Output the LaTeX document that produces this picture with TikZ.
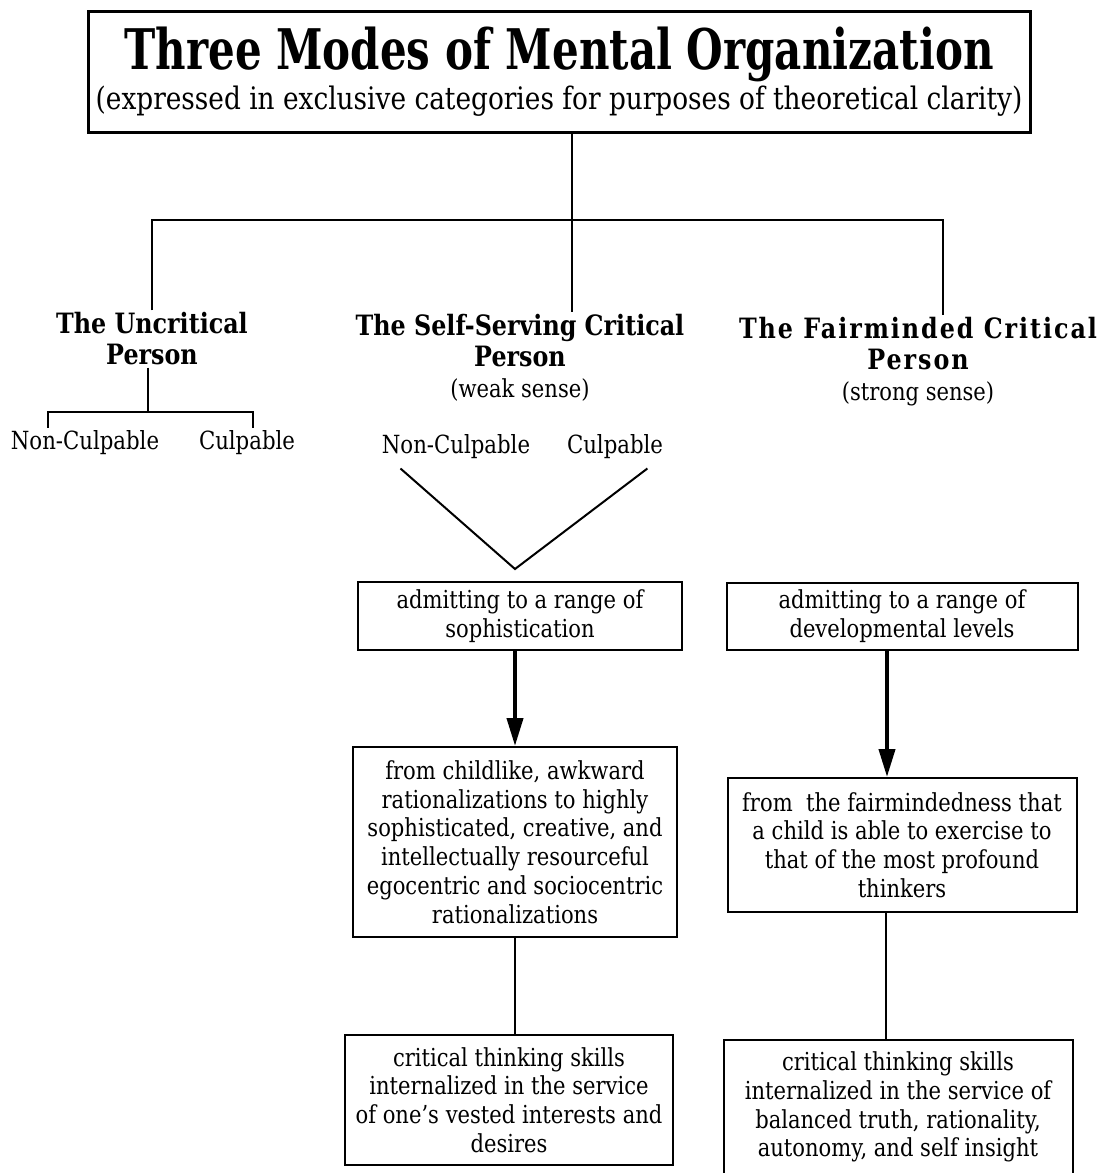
\documentclass[tikz,border=0pt]{standalone}
\usepackage{fontspec}
\setmainfont{DejaVu Serif}[FakeStretch=0.85]
\newfontfamily\titlefont{DejaVu Serif}[FakeStretch=0.75]
\usetikzlibrary{arrows.meta,positioning}

\tikzset{
  box/.style={draw,line width=1pt,align=center,inner sep=0pt,
    font=\fontsize{12.4}{14.4}\selectfont},
  head/.style={align=center,inner sep=1pt,
    font=\fontsize{14}{15.5}\selectfont\bfseries},
  lab/.style={inner sep=1.5pt,font=\fontsize{12.5}{14}\selectfont},
  link/.style={line width=1pt},
  arr/.style={line width=2pt,-{Triangle[length=14pt,width=8pt]}}
}

\begin{document}
\begin{tikzpicture}[x=0.5pt,y=-0.5pt]
\useasboundingbox (0,0) rectangle (1104,1173);
\clip (0,0) rectangle (1104,1173);

% title
\node[box,line width=1.5pt,minimum width=471pt,minimum height=60.5pt] (title) at (559,72)
  {{\titlefont\fontsize{28}{30}\selectfont\bfseries Three Modes of Mental Organization}\\[1pt]
   {\fontsize{15.5}{17}\selectfont (expressed in exclusive categories for purposes of theoretical clarity)}};

% the three kinds of person
\node[head] (uncrit) at (152,339) {The Uncritical\\Person};
\node[head] (selfs) at (520,358) {The Self-Serving Critical\\Person\\{\normalfont\fontsize{12.4}{14}\selectfont(weak sense)}};
\node[head,font=\fontsize{14}{15.5}\selectfont\bfseries\addfontfeatures{LetterSpace=7}] (fair) at (918,362)
  {The Fairminded Critical\\Person\\{\normalfont\fontsize{12.4}{14}\selectfont(strong sense)}};

\coordinate (j) at (572,220);
\draw[link] (title.south -| j) -- (j);
\draw[link] (uncrit.north) |- (j) -| ([xshift=12.5pt]fair.north);
\draw[link] (j) -- (j |- selfs.north);

% uncritical
\node[lab] (unc) at (85,443) {Non-Culpable};
\node[lab] (uc) at (247,443) {Culpable};
\coordinate (uj) at (148,412);
\coordinate (ul) at (48,412);
\coordinate (ur) at (253,412);
\draw[link] (uncrit.south -| uj) -- (uj);
\draw[link] (ul |- unc.north) -- (ul) -- (ur) -- (ur |- uc.north);

% self-serving (weak sense)
\node[lab] (snc) at (456,447) {Non-Culpable};
\node[lab] (sc) at (615,447) {Culpable};
\node[box,minimum width=162pt,minimum height=34pt] (b1) at (520,616)
  {admitting to a range of\\sophistication};
\coordinate (v) at ([xshift=-2.5pt,yshift=6pt]b1.north);
\draw[link] ([xshift=11pt,yshift=-3pt]snc.south west) -- (v) -- ([xshift=-9.5pt,yshift=-3pt]sc.south east);
\node[box,minimum width=162pt,minimum height=95pt] (b2) at (515,842)
  {from childlike, awkward\\rationalizations to highly\\sophisticated, creative, and\\intellectually resourceful\\egocentric and sociocentric\\rationalizations};
\draw[arr] (b1.south -| b2) -- (b2.north);
\node[box,minimum width=164pt,minimum height=65pt] (b3) at (509,1100)
  {critical thinking skills\\internalized in the service\\of one's vested interests and\\desires};
\draw[link] (b2.south) -- (b2.south |- b3.north);

% fairminded (strong sense)
\node[box,minimum width=175.5pt,minimum height=33.5pt] (r1) at (902,616)
  {admitting to a range of\\developmental levels};
\node[box,minimum width=174.5pt,minimum height=67pt] (r2) at (902,845)
  {from~ the fairmindedness that\\a child is able to exercise to\\that of the most profound\\thinkers};
\draw[arr] ([xshift=-7.5pt]r1.south) -- ([xshift=-7.5pt]r1.south |- r2.north);
\node[box,minimum width=174.5pt,minimum height=67pt] (r3) at (898,1107)
  {critical thinking skills\\internalized in the service of\\balanced truth, rationality,\\autonomy, and self insight};
\draw[link] ([xshift=-8pt]r2.south) -- ([xshift=-8pt]r2.south |- r3.north);
\end{tikzpicture}
\end{document}
